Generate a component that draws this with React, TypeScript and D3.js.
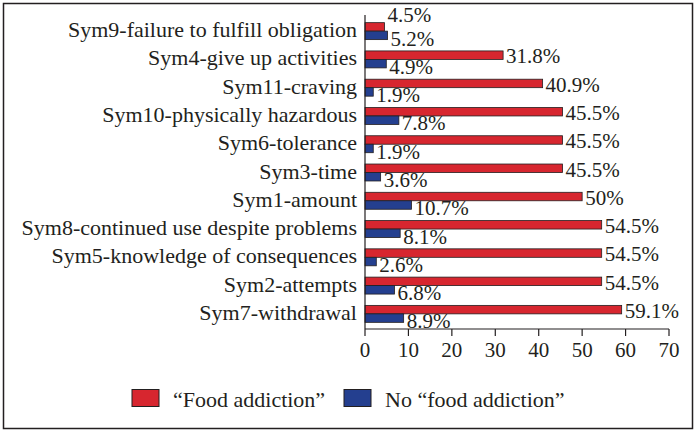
import * as d3 from 'd3';

// symptoms, top to bottom as drawn
const symptoms = [
    "Sym9-failure to fulfill obligation",
    "Sym4-give up activities",
    "Sym11-craving",
    "Sym10-physically hazardous",
    "Sym6-tolerance",
    "Sym3-time",
    "Sym1-amount",
    "Sym8-continued use despite problems",
    "Sym5-knowledge of consequences",
    "Sym2-attempts",
    "Sym7-withdrawal",
];
const foodAddiction = [4.5, 31.8, 40.9, 45.5, 45.5, 45.5, 50, 54.5, 54.5, 54.5, 59.1];
const noFoodAddiction = [5.2, 4.9, 1.9, 7.8, 1.9, 3.6, 10.7, 8.1, 2.6, 6.8, 8.9];
const xTicks = [0, 10, 20, 30, 40, 50, 60, 70];
const seriesNames = ["\u201cFood addiction\u201d", "No \u201cfood addiction\u201d"];

const W = 696;
const H = 433;
const RED = "#d7262f";
const BLUE = "#243f8f";
const INK = "#231f20";
const FS = 21;
const FONT = '"Liberation Serif", "Times New Roman", serif';

const App = () => {
    const x = d3.scaleLinear().domain([0, 70]).range([365, 669]);
    const y = d3.scaleBand().domain(symptoms).range([17, 328]).paddingInner(0.4).paddingOuter(0.2);
    const inner = d3.scaleBand().domain(["a", "b"]).range([0, y.bandwidth()]);
    const barH = inner.bandwidth();

    const fmt = (v: number) => `${v}%`;
    const ts = { fontFamily: FONT, fontSize: FS };

    return (
        <svg width={W} height={H} style={{ position: 'absolute', left: 0, top: 0, background: '#fff' }}
            fill={INK}>
            <rect x={3.5} y={3.5} width={689} height={425} fill="#fff" stroke={INK} strokeWidth={1.5} />

            {/* category labels */}
            {symptoms.map((s) => (
                <text key={s} x={357} y={(y(s) ?? 0) + y.bandwidth() / 2 + 6} textAnchor="end" style={{ ...ts, fontSize: 22 }}>{s}</text>
            ))}

            {/* bars */}
            {symptoms.map((s, i) => {
                const y0 = y(s) ?? 0;
                const yr = y0 + (inner("a") ?? 0);
                const yb = y0 + (inner("b") ?? 0);
                // small red values get their label lifted above so it clears the blue one
                const redBase = foodAddiction[i] < 10 ? yr - 1 : yr + barH + 4;
                return (
                    <g key={s}>
                        <rect x={x(0)} y={yr} width={x(foodAddiction[i]) - x(0)} height={barH} fill={RED} stroke={INK} strokeWidth={0.8} />
                        <rect x={x(0)} y={yb} width={x(noFoodAddiction[i]) - x(0)} height={barH} fill={BLUE} stroke={INK} strokeWidth={0.8} />
                        <text x={x(foodAddiction[i]) + 3} y={redBase} style={ts}>{fmt(foodAddiction[i])}</text>
                        <text x={x(noFoodAddiction[i]) + 3} y={yb + barH + 6} style={ts}>{fmt(noFoodAddiction[i])}</text>
                    </g>
                );
            })}

            {/* axes */}
            <line x1={x(0)} x2={x(0)} y1={15} y2={329} stroke={INK} strokeWidth={1.2} />
            <line x1={x(0)} x2={x(70)} y1={329} y2={329} stroke={INK} strokeWidth={1.2} />
            {xTicks.map((t) => (
                <g key={t}>
                    <line x1={x(t)} x2={x(t)} y1={329} y2={336} stroke={INK} strokeWidth={1.2} />
                    <text x={x(t)} y={357} textAnchor="middle" style={ts}>{t}</text>
                </g>
            ))}

            {/* legend */}
            <rect x={132} y={389.5} width={27} height={17} fill={RED} stroke={INK} strokeWidth={1} />
            <text x={173} y={407} style={{ ...ts, fontSize: 22 }}>{seriesNames[0]}</text>
            <rect x={344} y={389.5} width={27} height={17} fill={BLUE} stroke={INK} strokeWidth={1} />
            <text x={385} y={407} style={{ ...ts, fontSize: 22 }}>{seriesNames[1]}</text>
        </svg>
    );
};

export default App;
